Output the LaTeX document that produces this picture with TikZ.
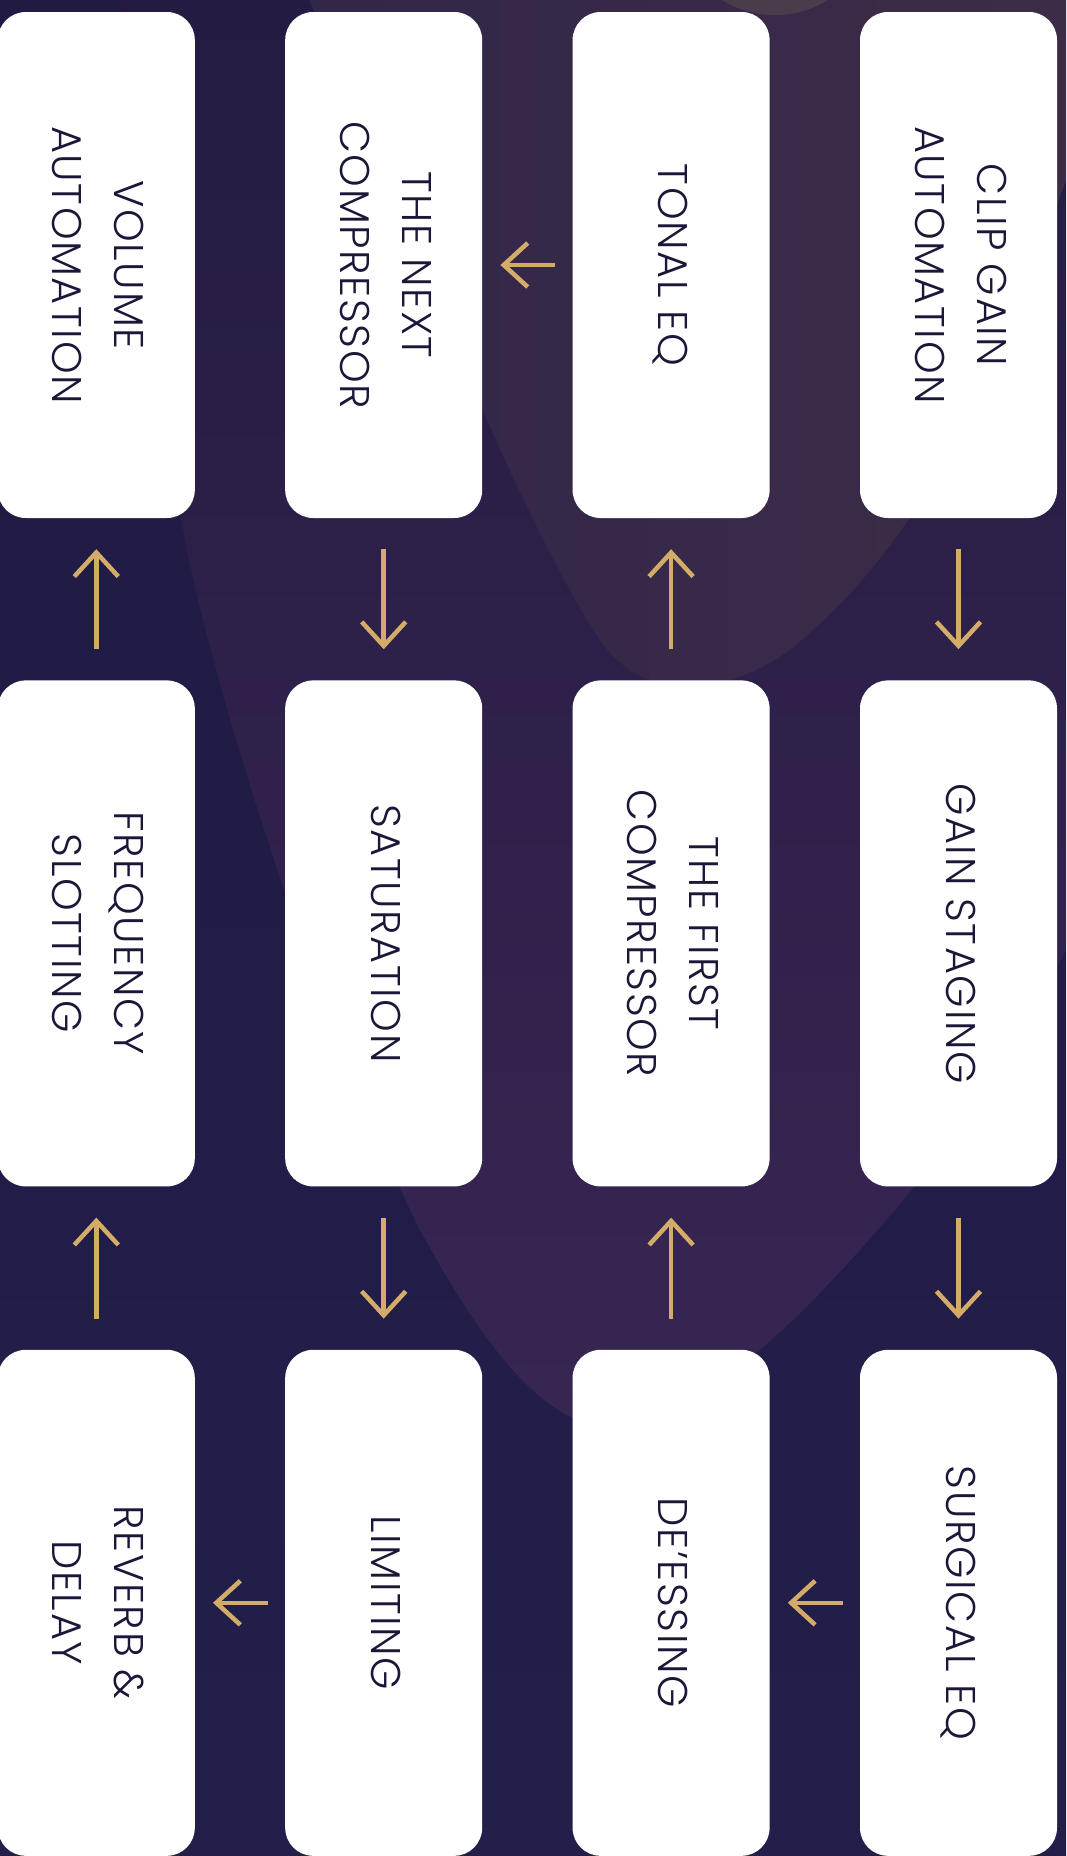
\documentclass[tikz,border=0pt]{standalone}
\usepackage{fontspec}
\setmainfont{Poppins}[UprightFont={* Light}, LetterSpace=4]
\usepackage{graphicx}
\usetikzlibrary{positioning, arrows.meta}

\definecolor{gold}{RGB}{212,172,104}
\definecolor{ink}{RGB}{27,23,56}
\definecolor{nighttop}{RGB}{33,26,66}
\definecolor{nightmid}{RGB}{35,37,90}
\definecolor{nightbot}{RGB}{34,31,75}
\definecolor{plumtop}{RGB}{37,27,66}
\definecolor{plummid}{RGB}{43,31,72}
\definecolor{plumbot}{RGB}{55,38,82}
\definecolor{dustleft}{RGB}{50,39,73}
\definecolor{dustright}{RGB}{60,44,71}
\definecolor{glow}{RGB}{75,60,75}

\newcommand{\stagetext}[1]{\rotatebox{-90}{\begin{tabular}{@{}c@{}}#1\end{tabular}}}

\tikzset{
  stage/.style={fill=white, rounded corners=28pt, minimum width=197pt, minimum height=506pt,
    inner sep=0pt, text=ink, font=\fontsize{41.5}{62}\selectfont},
  flow/.style={gold, line width=4.5pt, -{Straight Barb[length=24pt, width=44pt]}},
  vflow/.style={flow, shorten <=31pt, shorten >=31pt},
  hflow/.style={flow, shorten <=17pt, shorten >=18pt}
}

\begin{document}
\begin{tikzpicture}[x=1pt, y=-1pt]

  % background
  \useasboundingbox (0,0) rectangle (1066,1856);
  \shade[top color=nighttop, middle color=nightmid, bottom color=nightbot] (0,0) rectangle (1066,1856);
  \shade[top color=plumtop, middle color=plummid, bottom color=plumbot]
    (120,0) .. controls (140,250) and (160,420) .. (185,540)
    .. controls (215,700) and (330,1050) .. (420,1230)
    .. controls (480,1340) and (540,1420) .. (600,1425)
    .. controls (700,1430) and (820,1300) .. (914,1187)
    .. controls (980,1100) and (1040,1000) .. (1066,950) -- (1066,0) -- cycle;
  \shade[left color=dustleft, right color=dustright]
    (309,0) .. controls (420,260) and (520,520) .. (600,640)
    .. controls (640,700) and (720,700) .. (790,650)
    .. controls (850,600) and (880,560) .. (909,519)
    .. controls (960,440) and (1030,280) .. (1066,180) -- (1066,0) -- cycle;
  \fill[glow] (775,-86) circle (101pt);

  % stages
  \node[stage] (clipgain) at (958.5,265) {\stagetext{CLIP GAIN\\AUTOMATION}};
  \node[stage, below=162pt of clipgain] (gainstaging) {\stagetext{GAIN STAGING}};
  \node[stage, below=163pt of gainstaging] (surgicaleq) {\stagetext{SURGICAL EQ}};
  \node[stage, left=90pt of surgicaleq] (deessing) {\stagetext{DE’ESSING}};
  \node[stage, above=163pt of deessing] (firstcomp) {\stagetext{THE FIRST\\COMPRESSOR}};
  \node[stage, above=162pt of firstcomp] (tonaleq) {\stagetext{TONAL EQ}};
  \node[stage, left=90pt of tonaleq] (nextcomp) {\stagetext{THE NEXT\\COMPRESSOR}};
  \node[stage, below=162pt of nextcomp] (saturation) {\stagetext{SATURATION}};
  \node[stage, below=163pt of saturation] (limiting) {\stagetext{LIMITING}};
  \node[stage, left=90pt of limiting] (reverb) {\stagetext{REVERB \&\\DELAY}};
  \node[stage, above=163pt of reverb] (freqslot) {\stagetext{FREQUENCY\\SLOTTING}};
  \node[stage, above=162pt of freqslot] (volauto) {\stagetext{VOLUME\\AUTOMATION}};

  % flow
  \draw[vflow] (clipgain) -- (gainstaging);
  \draw[vflow] (gainstaging) -- (surgicaleq);
  \draw[hflow] (surgicaleq) -- (deessing);
  \draw[vflow] (deessing) -- (firstcomp);
  \draw[vflow] (firstcomp) -- (tonaleq);
  \draw[hflow] (tonaleq) -- (nextcomp);
  \draw[vflow] (nextcomp) -- (saturation);
  \draw[vflow] (saturation) -- (limiting);
  \draw[hflow] (limiting) -- (reverb);
  \draw[vflow] (reverb) -- (freqslot);
  \draw[vflow] (freqslot) -- (volauto);

\end{tikzpicture}
\end{document}
